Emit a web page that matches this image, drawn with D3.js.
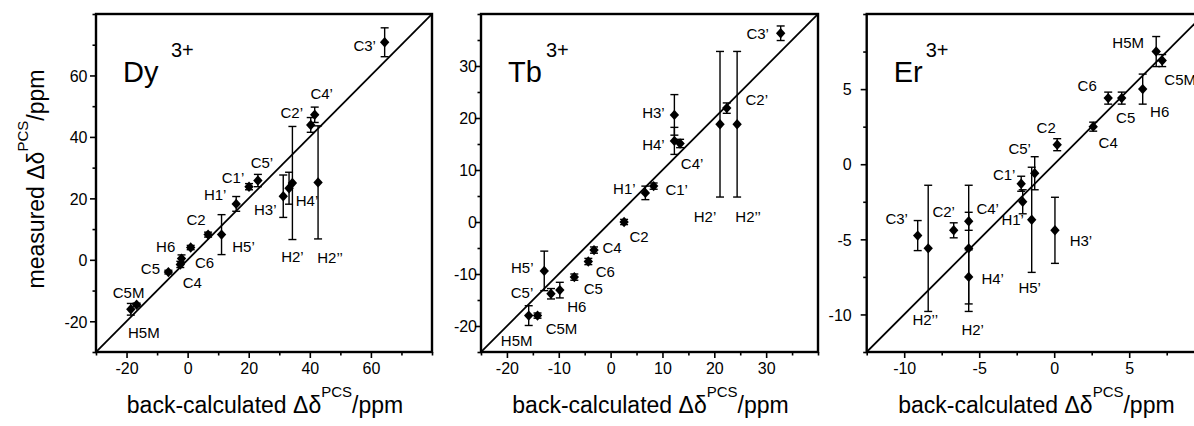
<!DOCTYPE html>
<html>
<head>
<meta charset="utf-8">
<script src="https://cdn.jsdelivr.net/npm/d3@7"></script>
<style>
  html, body { margin: 0; padding: 0; background: #fff; }
  svg { display: block; font-family: "Liberation Sans", Arial, sans-serif; }
</style>
</head>
<body>
<svg id="chart" width="1194" height="426"></svg>
<script>
// ---------------- DATA ----------------
// Dy3+
const dyLabels = ["C3’","C4’","C2’","C5’","C1’","H1’","H3’","H4’","H2’","H2’’","C2","H5’","H6","C6","C5","C4","C5M","H5M"];
const dyCalc   = [64.5, 41.6, 40.3, 23.0, 20.1, 15.9, 31.3, 33.2, 34.3, 42.7, 6.7, 11.1, 1.0, -2.0, -6.3, -2.4, -16.7, -18.6];
const dyMeas   = [70.8, 47.2, 43.9, 25.8, 23.8, 18.2, 20.7, 23.3, 25.0, 25.2, 8.2, 8.2, 4.0, 0.4, -4.0, -1.5, -14.6, -16.1];
const dyErr    = [4.7, 2.5, 2.4, 2.0, 1.0, 2.4, 6.9, 5.2, 18.4, 18.4, 0.8, 6.5, 0.7, 1.2, 0.6, 1.0, 0.5, 1.9];
const dyDomain = [-30, 80];
const dyMajorTicks = [-20, 0, 20, 40, 60];
const dyMinorTicks = [-30, -10, 10, 30, 50, 70, 80];

// Tb3+
const tbLabels = ["C3’","C2’","H2’","H2’’","H3’","H4’","C4’","H1’","C1’","C2","C4","C6","C5","H5’","H6","C5’","H5M","C5M"];
const tbCalc   = [32.8, 22.4, 21.1, 24.4, 12.3, 12.3, 13.4, 6.7, 8.3, 2.6, -3.2, -4.3, -7.0, -12.8, -9.8, -11.5, -15.8, -14.1];
const tbMeas   = [36.3, 21.9, 18.8, 18.8, 20.6, 15.6, 15.1, 5.6, 6.9, 0.0, -5.4, -7.6, -10.6, -9.4, -13.1, -13.8, -18.0, -18.0];
const tbErr    = [1.4, 1.0, 14.0, 14.0, 3.9, 2.6, 0.8, 1.3, 0.6, 0.5, 0.6, 0.6, 0.6, 3.8, 1.5, 1.0, 1.9, 0.5];
const tbDomain = [-25, 40];
const tbMajorTicks = [-20, -10, 0, 10, 20, 30];
const tbMinorTicks = [-25, -15, -5, 5, 15, 25, 35, 40];

// Er3+
const erLabels = ["H5M","C5M","C6","C5","H6","C4","C2","C5’","C1’","H1’","H5’","H3’","C3’","H2’’","C2’","C4’","H2’","H4’"];
const erCalc   = [6.8, 7.2, 3.6, 4.5, 5.9, 2.6, 0.2, -1.3, -2.2, -2.1, -1.5, 0.05, -9.1, -8.4, -6.7, -5.7, -5.7, -5.7];
const erMeas   = [7.5, 6.9, 4.4, 4.4, 5.0, 2.5, 1.3, -0.6, -1.3, -2.5, -3.7, -4.4, -4.75, -5.6, -4.4, -3.8, -5.6, -7.5];
const erErr    = [1.0, 0.4, 0.4, 0.4, 1.0, 0.3, 0.4, 1.1, 0.5, 0.8, 3.5, 2.2, 1.0, 4.2, 0.5, 0.6, 4.2, 1.8];
const erDomain = [-12.5, 10];
const erMajorTicks = [-10, -5, 0, 5];
const erMinorTicks = [-12.5, -7.5, -2.5, 2.5, 7.5, 10];

const ionNames = ["Dy", "Tb", "Er"];

// ---------------- LAYOUT (label offsets in px, relative to marker) ----------------
const dyLabelOffsets = [[-20,3],[7,-21],[-19,-12],[4,-18],[-16,-9],[-21,-9],[-18,13],[18,12],[0,74],[12,75],[-12,-15],[22,12],[-25,-1],[23,4],[-18,-4],[12,18],[-8,-12],[13,23]];
const tbLabelOffsets = [[-23,0],[30,-9],[-15,92],[11,92],[-21,-2],[-21,4],[12,20],[-21,-4],[23,3],[15,15],[18,-2],[17,10],[19,11],[-22,-3],[17,16],[-29,-1],[-12,25],[24,13]];
const erLabelOffsets = [[-28,-9],[18,19],[-21,-13],[4,19],[17,22],[15,16],[-11,-17],[-15,-25],[-17,-9],[-10,18],[-2,68],[26,10],[-21,-17],[-3,71],[-10,-19],[19,-13],[4,81],[24,2]];
const ionSupOffsets = [75, 65, 59];

const frameTop = 14, frameBottom = 352;
const panels = [
  {ion: ionNames[0], labels: dyLabels, xs: dyCalc, ys: dyMeas, err: dyErr, domain: dyDomain,
   major: dyMajorTicks, minor: dyMinorTicks, offs: dyLabelOffsets, left: 96, right: 432, yLabelGap: 8.5, yTitle: true, sup: ionSupOffsets[0]},
  {ion: ionNames[1], labels: tbLabels, xs: tbCalc, ys: tbMeas, err: tbErr, domain: tbDomain,
   major: tbMajorTicks, minor: tbMinorTicks, offs: tbLabelOffsets, left: 481, right: 818, yLabelGap: 4, yTitle: false, sup: ionSupOffsets[1]},
  {ion: ionNames[2], labels: erLabels, xs: erCalc, ys: erMeas, err: erErr, domain: erDomain,
   major: erMajorTicks, minor: erMinorTicks, offs: erLabelOffsets, left: 866.7, right: 1204.2, yLabelGap: 15, yTitle: false, sup: ionSupOffsets[2]}
];

const svg = d3.select("#chart");
const diamond = "M0,-5.2L4.7,0L0,5.2L-4.7,0Z";
const fmt = d => String(d);

panels.forEach((p, pi) => {
  const x = d3.scaleLinear().domain(p.domain).range([p.left, p.right]);
  const y = d3.scaleLinear().domain(p.domain).range([frameBottom, frameTop]);
  const g = svg.append("g");
  const clipId = "clip" + pi;
  svg.append("clipPath").attr("id", clipId).append("rect")
    .attr("x", p.left).attr("y", frameTop).attr("width", p.right - p.left).attr("height", frameBottom - frameTop);

  const xMinor = d3.axisBottom(x).tickValues(p.minor).tickSize(3.5).tickFormat("");
  const yMinor = d3.axisLeft(y).tickValues(p.minor).tickSize(3.5).tickFormat("");
  const xMajor = d3.axisBottom(x).tickValues(p.major).tickSize(6).tickPadding(5).tickFormat(fmt);
  const yMajor = d3.axisLeft(y).tickValues(p.major).tickSize(6).tickPadding(p.yLabelGap).tickFormat(fmt);

  [[xMinor, "b"], [xMajor, "b"], [yMinor, "l"], [yMajor, "l"]].forEach(([ax, side]) => {
    const a = g.append("g")
      .attr("transform", side === "b" ? `translate(0,${frameBottom})` : `translate(${p.left},0)`)
      .call(ax);
    a.select(".domain").remove();
    a.selectAll(".tick line").attr("stroke", "#000").attr("stroke-width", 1.6);
    a.selectAll(".tick text").attr("fill", "#000").attr("font-size", 16)
      .attr("font-family", "'Liberation Sans', Arial, sans-serif");
    if (side === "l") a.selectAll(".tick text").attr("x", -p.yLabelGap).attr("dy", "0.36em");
  });

  // diagonal y = x
  g.append("line")
    .attr("clip-path", `url(#${clipId})`)
    .attr("x1", x(p.domain[0])).attr("y1", y(p.domain[0]))
    .attr("x2", x(p.domain[1])).attr("y2", y(p.domain[1]))
    .attr("stroke", "#000").attr("stroke-width", 1.8);

  const data = p.labels.map((l, i) => ({label: l, cx: p.xs[i], cy: p.ys[i], e: p.err[i], off: p.offs[i]}));

  // error bars
  const eb = g.append("g").attr("stroke", "#000").attr("stroke-width", 1.4).attr("fill", "none");
  data.forEach(d => {
    const px = x(d.cx), y1 = y(d.cy - d.e), y2 = y(d.cy + d.e);
    eb.append("line").attr("x1", px).attr("x2", px).attr("y1", y1).attr("y2", y2);
    eb.append("line").attr("x1", px - 4).attr("x2", px + 4).attr("y1", y1).attr("y2", y1);
    eb.append("line").attr("x1", px - 4).attr("x2", px + 4).attr("y1", y2).attr("y2", y2);
  });

  // markers
  g.append("g").selectAll("path").data(data).join("path")
    .attr("d", diamond)
    .attr("transform", d => `translate(${x(d.cx)},${y(d.cy)})`)
    .attr("fill", "#000");

  // point labels
  g.append("g").selectAll("text").data(data).join("text")
    .attr("x", d => x(d.cx) + d.off[0])
    .attr("y", d => y(d.cy) + d.off[1])
    .attr("text-anchor", "middle")
    .attr("dy", "0.36em")
    .attr("font-size", 15)
    .attr("fill", "#000")
    .text(d => d.label);

  // frame
  g.append("rect")
    .attr("x", p.left).attr("y", frameTop)
    .attr("width", p.right - p.left).attr("height", frameBottom - frameTop)
    .attr("fill", "none").attr("stroke", "#000").attr("stroke-width", 2.4);

  // ion label
  g.append("text").attr("x", p.left + 27).attr("y", 82).attr("fill", "#000")
    .attr("font-size", 29).text(p.ion);
  g.append("text").attr("x", p.left + p.sup).attr("y", 57).attr("fill", "#000")
    .attr("font-size", 20).text("3+");

  // x-axis title
  const cx = (p.left + p.right) / 2;
  const xt = g.append("text").attr("x", cx + 1).attr("y", 413).attr("text-anchor", "middle")
    .attr("font-size", 23).attr("fill", "#000");
  xt.append("tspan").text("back-calculated Δδ");
  xt.append("tspan").attr("font-size", 15).attr("dy", -16).text("PCS");
  xt.append("tspan").attr("dy", 16).text("/ppm");

  if (p.yTitle) {
    const yt = g.append("text").attr("transform", `translate(44,179) rotate(-90)`)
      .attr("text-anchor", "middle").attr("font-size", 23).attr("fill", "#000");
    yt.append("tspan").text("measured Δδ");
    yt.append("tspan").attr("font-size", 15).attr("dy", -16).text("PCS");
    yt.append("tspan").attr("dy", 16).text("/ppm");
  }
});
</script>
</body>
</html>
